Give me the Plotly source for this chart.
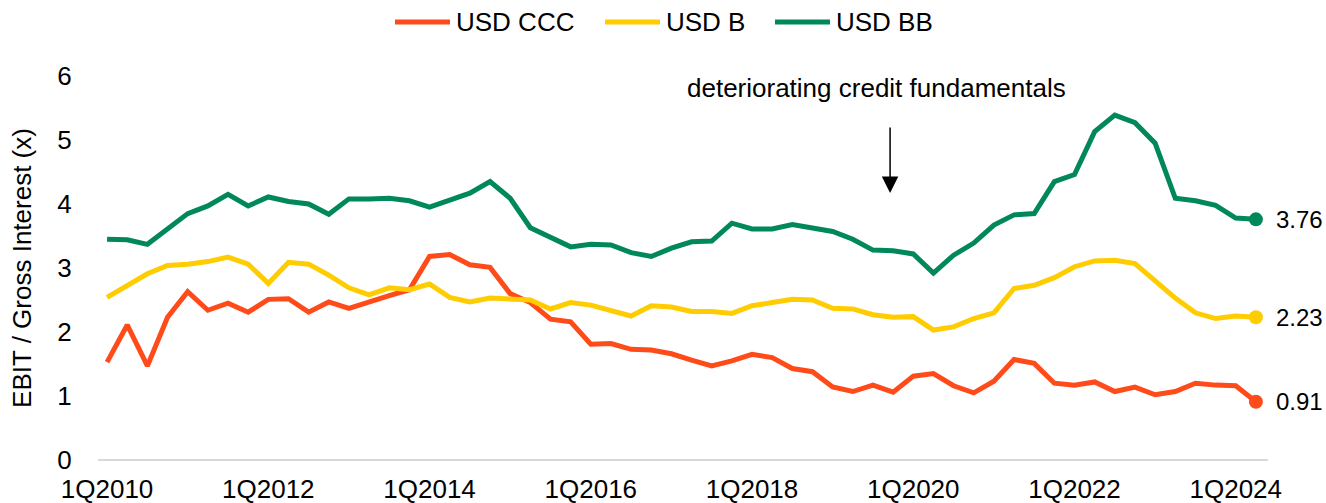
import plotly.graph_objects as go

# Quarterly periods, 1Q2010 through 2Q2024
quarters = [f"{q}Q{y}" for y in range(2010, 2025) for q in range(1, 5)][:58]

usd_ccc = [1.53, 2.11, 1.47, 2.23, 2.63, 2.34, 2.45, 2.31, 2.51, 2.52,
           2.31, 2.47, 2.37, 2.48, 2.57, 2.66, 3.18, 3.21, 3.05, 3.01,
           2.60, 2.46, 2.20, 2.16, 1.81, 1.82, 1.73, 1.72, 1.66, 1.56,
           1.47, 1.55, 1.65, 1.60, 1.43, 1.38, 1.14, 1.07, 1.17, 1.06,
           1.31, 1.35, 1.16, 1.05, 1.23, 1.57, 1.51, 1.20, 1.17, 1.22,
           1.07, 1.14, 1.02, 1.07, 1.20, 1.17, 1.16, 0.91]

usd_b = [2.54, 2.73, 2.91, 3.04, 3.06, 3.10, 3.17, 3.06, 2.76, 3.09,
         3.06, 2.89, 2.69, 2.58, 2.69, 2.66, 2.75, 2.54, 2.47, 2.53,
         2.52, 2.50, 2.36, 2.46, 2.42, 2.34, 2.25, 2.41, 2.39, 2.32,
         2.32, 2.29, 2.41, 2.46, 2.51, 2.50, 2.37, 2.36, 2.27, 2.23,
         2.24, 2.03, 2.08, 2.21, 2.30, 2.68, 2.73, 2.85, 3.02, 3.11,
         3.12, 3.07, 2.79, 2.53, 2.30, 2.21, 2.25, 2.23]

usd_bb = [3.45, 3.44, 3.37, 3.62, 3.85, 3.97, 4.15, 3.97, 4.11, 4.04,
          4.00, 3.84, 4.08, 4.08, 4.09, 4.05, 3.95, 4.06, 4.17, 4.35,
          4.09, 3.63, 3.48, 3.33, 3.37, 3.36, 3.24, 3.18, 3.31, 3.41,
          3.42, 3.70, 3.61, 3.61, 3.68, 3.63, 3.57, 3.45, 3.28, 3.27,
          3.22, 2.92, 3.20, 3.39, 3.67, 3.83, 3.85, 4.35, 4.46, 5.13,
          5.39, 5.27, 4.95, 4.09, 4.05, 3.98, 3.78, 3.76]

tick_labels = ["1Q2010", "1Q2012", "1Q2014", "1Q2016",
               "1Q2018", "1Q2020", "1Q2022", "1Q2024"]

series = [
    ("USD CCC", usd_ccc, "#FF4B1A"),
    ("USD B", usd_b, "#FFCC00"),
    ("USD BB", usd_bb, "#00885A"),
]

FONT = "Liberation Sans, Arial, sans-serif"
FS = 26
x_idx = list(range(len(quarters)))

# plot-area geometry (pixels) used to place the legend row
W, H = 1326, 503
ML, MR, MT, MB = 98, 58, 76, 43
PW, PH = W - ML - MR, H - MT - MB


def px_x(px):
    return (px - ML) / PW


def px_y(py):
    return (H - MB - py) / PH


fig = go.Figure()
for name, vals, color in series:
    fig.add_trace(go.Scatter(
        x=x_idx, y=vals, mode="lines", name=name, showlegend=False,
        line=dict(color=color, width=5),
        customdata=quarters,
        hovertemplate="%{customdata}: %{y:.2f}<extra>" + name + "</extra>",
    ))
    # end-point marker
    fig.add_trace(go.Scatter(
        x=[x_idx[-1]], y=[vals[-1]], mode="markers", showlegend=False,
        marker=dict(color=color, size=14), hoverinfo="skip",
    ))
    fig.add_annotation(
        x=x_idx[-1], y=vals[-1], xref="x", yref="y",
        text=f"{vals[-1]:.2f}", showarrow=False,
        xanchor="left", xshift=18,
        font=dict(family=FONT, size=24, color="#000000"),
    )

# legend row: line sample + label for each series
legend_slots = [(395, 450), (605, 660), (775, 830)]
for (name, _, color), (x0, x1) in zip(series, legend_slots):
    fig.add_shape(
        type="line", xref="paper", yref="paper",
        x0=px_x(x0), x1=px_x(x1), y0=px_y(22), y1=px_y(22),
        line=dict(color=color, width=5),
    )
    fig.add_annotation(
        x=px_x(x1 + 4), y=px_y(22), xref="paper", yref="paper",
        text=name, showarrow=False, xanchor="left", yanchor="middle",
        font=dict(family=FONT, size=FS, color="#000000"),
    )

# commentary and arrow
arrow_x = 38.85
fig.add_annotation(
    x=38.2, y=5.81, xref="x", yref="y",
    text="deteriorating credit fundamentals", showarrow=False,
    font=dict(family=FONT, size=FS, color="#000000"),
)
fig.add_annotation(
    x=arrow_x, y=4.17, ax=arrow_x, ay=5.22,
    xref="x", yref="y", axref="x", ayref="y",
    text="", showarrow=True, arrowhead=2, arrowsize=2.2,
    arrowwidth=1.5, arrowcolor="#000000",
)

tick_vals = [x_idx[quarters.index(t)] for t in tick_labels]

fig.update_layout(
    width=W, height=H,
    paper_bgcolor="white", plot_bgcolor="white",
    margin=dict(l=ML, r=MR, t=MT, b=MB, autoexpand=False),
    font=dict(family=FONT, size=FS, color="#000000"),
    showlegend=False,
    xaxis=dict(
        range=[-0.45, 57.6], tickmode="array",
        tickvals=tick_vals, ticktext=tick_labels,
        showgrid=False, zeroline=False,
        showline=False, ticks="outside", ticklen=6, tickcolor="white",
        tickfont=dict(family=FONT, size=FS, color="#000000"),
        automargin=False,
    ),
    yaxis=dict(
        range=[0, 6], tickmode="array", tickvals=[0, 1, 2, 3, 4, 5, 6],
        showgrid=False, zeroline=True, zerolinecolor="#D9D9D9",
        zerolinewidth=2, showline=False,
        ticks="outside", ticklen=20, tickcolor="white",
        tickfont=dict(family=FONT, size=FS, color="#000000"),
        title=dict(text="EBIT / Gross Interest (x)", standoff=18,
                   font=dict(family=FONT, size=FS, color="#000000")),
        automargin=False,
    ),
)

fig.write_html("out.html")
